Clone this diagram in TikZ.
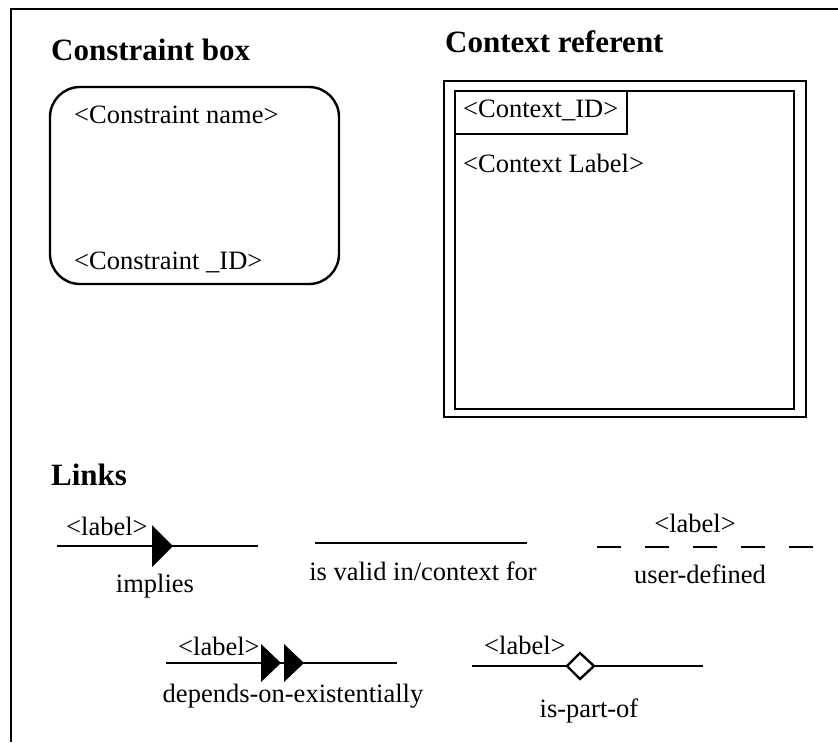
\documentclass[tikz,border=0pt]{standalone}
\usepackage{fontspec}
\setmainfont{Liberation Serif}
\begin{document}
\begin{tikzpicture}[x=1pt,y=-1pt,line width=2.4pt,
  body/.style={inner sep=0pt,anchor=base west,font=\fontsize{26.5}{30}\selectfont},
  bodyc/.style={inner sep=0pt,anchor=base,font=\fontsize{26.5}{30}\selectfont},
  ttl/.style={inner sep=0pt,anchor=base west,font=\fontsize{31}{36}\selectfont\bfseries},
  link/.style={line width=2.4pt},
  headfill/.style={fill=black,draw=none}]
\useasboundingbox (0,0) rectangle (838,742);
% frame
\coordinate (fbl) at (11,742);
\coordinate (ftl) at (11,9);
\coordinate (ftr) at (838,9);
\draw (fbl) -- (ftl) -- (ftr);

% Constraint box
\node[ttl] (tcb) at (50,60) {Constraint box};
\draw[rounded corners=30pt] (50,87) rectangle (339,284);
\node[body] (cname) at (73,123) {<Constraint name>};
\node[body] (cid) at (73,269) {<Constraint \_ID>};

% Context referent
\node[ttl] (tcr) at (444,52) {Context referent};
\draw (444,81) rectangle (806,417);
\draw (455,91) rectangle (794,409);
\draw (455,91) rectangle (627,134);
\node[body] (ctxid) at (462,117) {<Context\_ID>};
\node[body] (ctxlab) at (462,172) {<Context Label>};

% Links
\node[ttl] (tl) at (50,485) {Links};

% implies
\coordinate (i1) at (57,546);
\coordinate (i2) at (258,546);
\draw[link] (i1) -- (i2);
\fill[headfill] (152,525) -- (173,546) -- (152,567) -- cycle;
\node[body] (il) at (65,535) {<label>};
\node[bodyc] (in) at (155,592) {implies};

% is valid in
\coordinate (v1) at (315,543);
\coordinate (v2) at (527,543);
\draw[link] (v1) -- (v2);
\node[bodyc] (vn) at (423,580) {is valid in/context for};

% user-defined
\coordinate (u1) at (597,547);
\coordinate (u2) at (813,547);
\draw[link,dash pattern=on 24pt off 24pt] (u1) -- (u2);
\node[bodyc] (ul) at (695,532) {<label>};
\node[bodyc] (un) at (700,583) {user-defined};

% depends-on-existentially
\coordinate (d1) at (166,663);
\coordinate (d2) at (397,663);
\draw[link] (d1) -- (d2);
\fill[headfill] (261,644) -- (281,663) -- (261,682) -- cycle;
\fill[headfill] (284,644) -- (304,663) -- (284,682) -- cycle;
\node[body] (dl) at (177,655) {<label>};
\node[bodyc] (dn) at (293,702) {depends-on-existentially};

% is-part-of
\coordinate (p1) at (472,666);
\coordinate (p2) at (703,666);
\draw[link] (p1) -- (p2);
\draw[fill=white] (567,666) -- (580,653) -- (594,666) -- (580,679) -- cycle;
\node[body] (pl) at (483,654) {<label>};
\node[bodyc] (pn) at (589,717) {is-part-of};
\end{tikzpicture}
\end{document}
